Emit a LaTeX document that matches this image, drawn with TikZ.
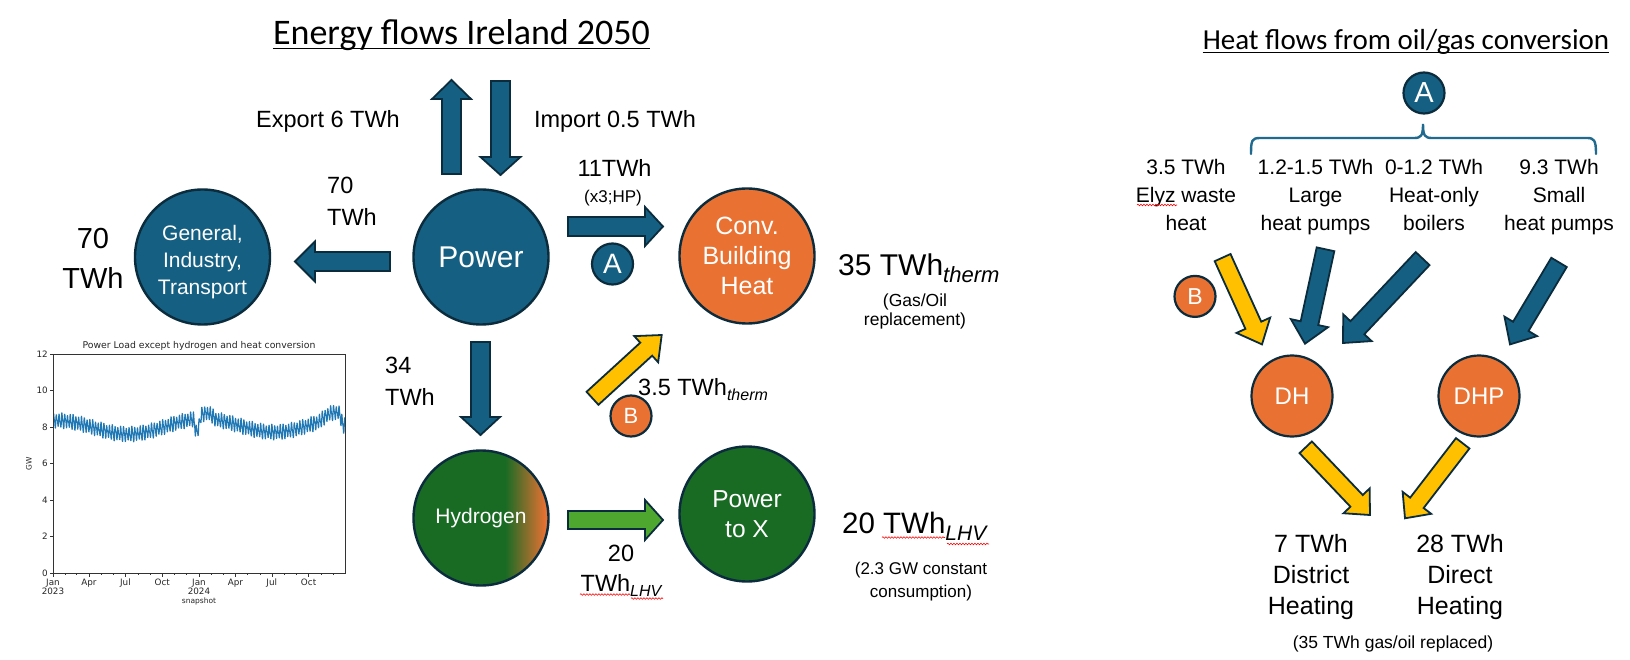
\documentclass[tikz,border=0pt]{standalone}
\usepackage{fontspec}
\setmainfont{Liberation Sans}
\newfontfamily\titlefont{Carlito}
\newfontfamily\plotfont{DejaVu Sans}
\usetikzlibrary{calc,decorations.pathmorphing}
\definecolor{eblue}{HTML}{156082}
\definecolor{eline}{HTML}{0B2C3D}
\definecolor{eorange}{HTML}{E97132}
\definecolor{egreen}{HTML}{196B24}
\definecolor{lgreen}{HTML}{4EA72E}
\definecolor{eyellow}{HTML}{FFC000}
\definecolor{mplblue}{HTML}{1F77B4}
\definecolor{braceblue}{HTML}{1F6A8E}
\pgfdeclarehorizontalshading{hydro}{100bp}{color(0bp)=(egreen); color(59bp)=(egreen); color(74bp)=(eorange); color(100bp)=(eorange)}
\newcommand\setfs[2]{\fontsize{#1}{#2}\selectfont}
\newcommand\subtxt[3]{\raisebox{#1}{\fontsize{#2}{#2}\selectfont\itshape #3}}
% #1 style, #2 tail, #3 tip, #4 half shaft, #5 half head, #6 head length
\newcommand\fatarrow[6]{%
  \coordinate (fah) at ($(#3)!#6!(#2)$);
  \draw[#1] ($(#2)!#4!90:(#3)$) -- ($(fah)!#4!-90:(#2)$) -- ($(fah)!#5!-90:(#2)$) -- (#3)
    -- ($(fah)!#5!90:(#2)$) -- ($(fah)!#4!90:(#2)$) -- ($(#2)!#4!-90:(#3)$) -- cycle;}
\begin{document}
\begin{tikzpicture}[x=1pt,y=-1pt,
  big/.style={circle, draw=eline, line width=2.4pt, minimum size=135pt, inner sep=0pt, align=center, text=white},
  mid/.style={circle, draw=eline, line width=2.2pt, minimum size=81pt, inner sep=0pt, text=white},
  small/.style={circle, draw=eline, line width=2.2pt, minimum size=41pt, inner sep=0pt, text=white},
  lbl/.style={inner sep=0pt, align=center, text=black},
  barrow/.style={fill=eblue, draw=eline, line width=1.8pt, line join=miter},
  yarrow/.style={fill=eyellow, draw=eline, line width=1.8pt, line join=miter},
  garrow/.style={fill=lgreen, draw=eline, line width=1.8pt, line join=miter},
  uline/.style={draw=black, line width=1.4pt},
  squig/.style={draw=red, line width=0.6pt, decorate, decoration={snake, amplitude=0.8pt, segment length=3pt}},
  brace/.style={draw=braceblue, line width=2.4pt, line cap=round},
  ptick/.style={draw=black!80, line width=0.6pt},
  ptext/.style={inner sep=0pt, font=\plotfont\setfs{8.8}{10}, text=black!85}
]
\useasboundingbox (0,0) rectangle (1630,660);
\fill[white] (0,0) rectangle (1630,660);

% ---------- titles ----------
\node[lbl, anchor=base, font=\titlefont\setfs{36}{40}] (ttlL) at (461.5,45) {Energy flows Ireland 2050};
\draw[uline] ([yshift=-3.5pt]ttlL.base west) -- ([yshift=-3.5pt]ttlL.base east);
\node[lbl, anchor=base, font=\titlefont\setfs{29}{32}] (ttlR) at (1406,50) {Heat flows from oil/gas conversion};
\draw[uline] ([yshift=-2.5pt]ttlR.base west) -- ([yshift=-2.5pt]ttlR.base east);

% ---------- left diagram circles ----------
\node[big, fill=eblue] (gen) at (202.5,257) {};
\node[lbl, text=white, font=\setfs{21}{27}] (genT) at (202.5,262) {General,\\Industry,\\Transport};
\node[big, fill=eblue, font=\setfs{30}{34}] (pow) at (481,257) {Power};
\node[big, fill=eorange, font=\setfs{25}{30}] (conv) at (747,256) {Conv.\\Building\\Heat};
\node[big, shading=hydro, font=\setfs{21}{25}] (hyd) at (481,518) {Hydrogen};
\node[big, fill=egreen, font=\setfs{24.5}{30}] (ptx) at (747,514) {Power\\to X};
\node[small, fill=eblue, font=\setfs{28}{28}] (aL) at (612.5,264) {A};
\node[small, fill=eorange, font=\setfs{22}{22}] (bL) at (631,416) {B};

% ---------- left arrows ----------
\coordinate (exT) at (451.5,174); \coordinate (exH) at (451.5,80);
\coordinate (imT) at (500.5,81);  \coordinate (imH) at (500.5,175);
\coordinate (geT) at (390,261.5); \coordinate (geH) at (295,261.5);
\coordinate (cvT) at (568,226.5); \coordinate (cvH) at (663,226.5);
\coordinate (hyT) at (480.5,342); \coordinate (hyH) at (480.5,435);
\coordinate (bT) at (592.5,398.3); \coordinate (bH) at (661.7,335);
\coordinate (pxT) at (568,520);   \coordinate (pxH) at (663,520);
\fatarrow{barrow}{exT}{exH}{9.5pt}{19.5pt}{19pt}
\fatarrow{barrow}{imT}{imH}{9.5pt}{20pt}{18pt}
\fatarrow{barrow}{geT}{geH}{9.5pt}{20pt}{20pt}
\fatarrow{barrow}{cvT}{cvH}{9.5pt}{19.5pt}{18pt}
\fatarrow{barrow}{hyT}{hyH}{9.5pt}{19.5pt}{18pt}
\fatarrow{yarrow}{bT}{bH}{8.8pt}{17.7pt}{21pt}
\fatarrow{garrow}{pxT}{pxH}{9pt}{20pt}{18pt}

% ---------- left labels ----------
\node[lbl, anchor=base, font=\setfs{23.5}{28}] (exL) at (328,127.5) {Export 6 TWh};
\node[lbl, anchor=base, font=\setfs{23.5}{28}] (imL) at (615,127.5) {Import 0.5 TWh};
\node[lbl, anchor=base west, align=left, font=\setfs{23.5}{32}] (geL) at (327,225.4) {70\\TWh};
\node[lbl, anchor=base, font=\setfs{29}{40}] (genL) at (93,288.4) {70\\TWh};
\node[lbl, anchor=base, font=\setfs{23.5}{28}] (cvL) at (614.5,176.4) {11TWh};
\node[lbl, anchor=base, font=\setfs{17}{20}] (cvL2) at (613,203) {(x3;HP)};
\node[lbl, anchor=base west, align=left, font=\setfs{23.5}{32}] (hyL) at (385,405.4) {34\\TWh};
\node[lbl, anchor=base west, font=\setfs{23.5}{28}] (bLb) at (638,395.4) {3.5 TWh\subtxt{-5pt}{16}{therm}};
\node[lbl, anchor=base west, font=\setfs{30}{34}] (convL) at (838,275.7) {35 TWh\subtxt{-7pt}{22}{therm}};
\node[lbl, anchor=base, font=\setfs{17.5}{19.5}] (convL2) at (915,325.5) {(Gas/Oil\\replacement)};
\node[lbl, anchor=base, font=\setfs{23.5}{30}] (pxL) at (621,591.4) {20\\TWh\subtxt{-5pt}{16}{LHV}};
\node[lbl, anchor=base west, font=\setfs{29.5}{34}] (ptxL) at (842,533.5) {20 TWh\subtxt{-7pt}{21}{LHV}};
\node[lbl, anchor=base, font=\setfs{17}{23}] (ptxL2) at (921,597) {(2.3 GW constant\\consumption)};
\draw[squig] (580,594.5) -- (630,594.5);
\draw[squig] (631,598.5) -- (663,598.5);
\draw[squig] (882,537.5) -- (945,537.5);
\draw[squig] (947,544) -- (989,544);

% ---------- chart ----------
\node[ptext, font=\plotfont\setfs{9.3}{11}] (chT) at (199,346) {Power Load except hydrogen and heat conversion};
\begin{scope}
\clip (53,354) rectangle (345,573);
\draw[mplblue, line width=1.15pt, line join=round]
  plot[domain=0:730, samples=1461]
  ({53+0.4*\x}, {573-18.25*(7.95+0.4*cos(0.9863*(\x-8))+0.3*sin(51.4286*mod(\x,7))+0.14*sin(102.857*mod(\x,3.5))+0.06*sin(37*mod(\x,9.73))
     -0.7*max(0,cos(min(abs(\x-360)*10,90)))-0.6*max(0,cos(min(abs(\x-726)*10,90)))
     +0.3*max(0,cos(min(abs(\x-385)*4,90)))+0.3*max(0,cos(min(abs(\x-700)*2.5,90)))+0.0003*\x)});
\end{scope}
\draw[ptick] (53,354) rectangle (345,573);
\foreach \v in {0,2,...,12} {
  \draw[ptick] (53,{573-18.25*\v}) -- ++(-3.5,0) node[ptext, anchor=east, xshift=-1.5pt] (yt\v) {\v};
}
\foreach \d/\m [count=\i] in {0/Jan,90/Apr,181/Jul,273/Oct,365/Jan,456/Apr,547/Jul,639/Oct} {
  \draw[ptick] ({53+0.4*\d},573) -- ++(0,3.5) node[ptext, anchor=north, yshift=-2pt] (xt\i) {\m};
}
\foreach \d in {31,59,120,151,212,243,304,334,396,425,486,517,578,609,670,700} {
  \draw[ptick] ({53+0.4*\d},573) -- ++(0,2);
}
\node[ptext, anchor=north] (yr1) at (53,587.5) {2023};
\node[ptext, anchor=north] (yr2) at (199,587.5) {2024};
\node[ptext, anchor=north, font=\plotfont\setfs{7.5}{9}] (snap) at (199,597.5) {snapshot};
\node[ptext, rotate=90, font=\plotfont\setfs{7.5}{9}] (gwL) at (29,464) {GW};

% ---------- right diagram ----------
\node[small, fill=eblue, font=\setfs{29}{29}] (aR) at (1424,93) {A};
\draw[brace] (1251,154) .. controls (1251,140) and (1252,138) .. (1260,138) -- (1414,138)
  .. controls (1421,138) and (1423,136) .. (1423,124)
  .. controls (1423,136) and (1425,138) .. (1432,138) -- (1587,138)
  .. controls (1594,138) and (1596,140) .. (1596,154);
\node[lbl, anchor=base, font=\setfs{21}{28}] (c1) at (1186,231) {3.5 TWh\\Elyz waste\\heat};
\node[lbl, anchor=base, font=\setfs{21}{28}] (c2) at (1315.5,231) {1.2-1.5 TWh\\Large\\heat pumps};
\node[lbl, anchor=base, font=\setfs{21}{28}] (c3) at (1434,231) {0-1.2 TWh\\Heat-only\\boilers};
\node[lbl, anchor=base, font=\setfs{21}{28}] (c4) at (1559,231) {9.3 TWh\\Small\\heat pumps};
\draw[squig] (1137,205) -- (1177,205);
\node[small, fill=eorange, font=\setfs{23}{23}] (bR) at (1195,296.4) {B};
\node[mid, fill=eorange, font=\setfs{24}{24}] (dh) at (1292,396) {DH};
\node[mid, fill=eorange, font=\setfs{24}{24}] (dhp) at (1479,396) {DHP};

\coordinate (r1T) at (1222.6,257.6); \coordinate (r1H) at (1262,344.4);
\coordinate (r2T) at (1325.5,249.3); \coordinate (r2H) at (1305,343.7);
\coordinate (r3T) at (1422.6,258.6); \coordinate (r3H) at (1343,343);
\coordinate (r4T) at (1559,262.4);   \coordinate (r4H) at (1510,344.4);
\coordinate (d1T) at (1305.7,447.3); \coordinate (d1H) at (1370,515);
\coordinate (d2T) at (1462.7,443.3); \coordinate (d2H) at (1405,518.3);
\fatarrow{yarrow}{r1T}{r1H}{8.7pt}{18.5pt}{21pt}
\fatarrow{barrow}{r2T}{r2H}{9pt}{19pt}{21pt}
\fatarrow{barrow}{r3T}{r3H}{9.5pt}{19.5pt}{21pt}
\fatarrow{barrow}{r4T}{r4H}{9pt}{19pt}{21pt}
\fatarrow{yarrow}{d1T}{d1H}{8.5pt}{18pt}{19.5pt}
\fatarrow{yarrow}{d2T}{d2H}{8.5pt}{18pt}{19.5pt}

\node[lbl, anchor=base, font=\setfs{25}{31}] (dhL) at (1311,614.3) {7 TWh\\District\\Heating};
\node[lbl, anchor=base, font=\setfs{25}{31}] (dhpL) at (1460,614.3) {28 TWh\\Direct\\Heating};
\node[lbl, anchor=base, font=\setfs{17.5}{20}] (totL) at (1393,648.5) {(35 TWh gas/oil replaced)};
\end{tikzpicture}
\end{document}
